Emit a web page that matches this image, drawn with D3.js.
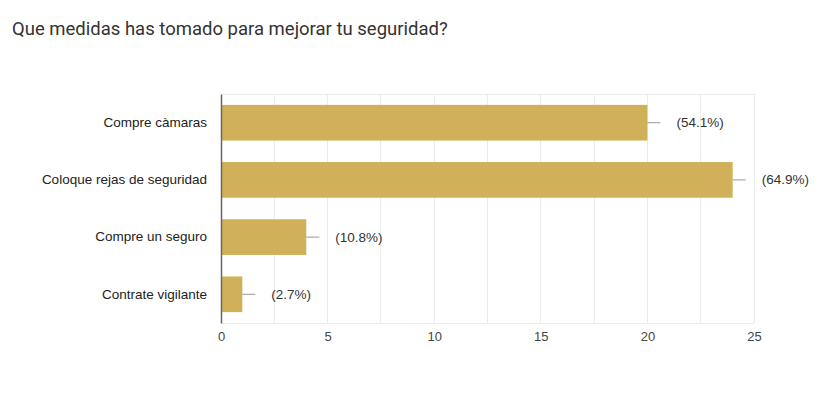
<!DOCTYPE html>
<html><head><meta charset="utf-8">
<script src="https://cdn.jsdelivr.net/npm/d3@7"></script>
<style>body{margin:0;background:#fff;}svg{display:block;}</style>
</head><body>
<svg id="c" width="830" height="403"></svg>
<script>
const title = "Que medidas has tomado para mejorar tu seguridad?";
const categories = ["Compre càmaras", "Coloque rejas de seguridad", "Compre un seguro", "Contrate vigilante"];
const values = [20, 24, 4, 1];
const percentLabels = ["(54.1%)", "(64.9%)", "(10.8%)", "(2.7%)"];
const tickValues = [0, 5, 10, 15, 20, 25];
const gridValues = [2.5, 5, 7.5, 10, 12.5, 15, 17.5, 20, 22.5, 25];

const svg = d3.select("#c");
const pLeft = 221, pRight = 754, pTop = 94, pBottom = 323;
const x = d3.scaleLinear().domain([0, 25]).range([pLeft, pRight]);
const y = d3.scaleBand().domain(categories).range([pTop, pBottom]).paddingInner(0.376).paddingOuter(0.19);

svg.append("text").attr("x", 12).attr("y", 35).text(title)
  .attr("font-family", "Roboto, Arial, sans-serif").attr("font-size", 18.5).attr("fill", "#333");

// grid
svg.append("g").selectAll("line").data(gridValues).join("line")
  .attr("x1", d => x(d)).attr("x2", d => x(d)).attr("y1", pTop).attr("y2", pBottom)
  .attr("stroke", "#ebebeb").attr("stroke-width", 1).attr("shape-rendering", "crispEdges");
svg.append("line").attr("x1", pLeft).attr("x2", pRight).attr("y1", pTop).attr("y2", pTop)
  .attr("stroke", "#ebebeb").attr("shape-rendering", "crispEdges");
svg.append("line").attr("x1", pLeft).attr("x2", pRight).attr("y1", pBottom).attr("y2", pBottom)
  .attr("stroke", "#ebebeb").attr("shape-rendering", "crispEdges");

// bars
svg.append("g").selectAll("rect").data(values).join("rect")
  .attr("x", x(0)).attr("y", (d, i) => y(categories[i]))
  .attr("width", d => x(d) - x(0)).attr("height", y.bandwidth())
  .attr("fill", "#d1b05a");

// whiskers
svg.append("g").selectAll("line").data(values).join("line")
  .attr("x1", d => x(d)).attr("x2", d => x(d) + 13)
  .attr("y1", (d, i) => y(categories[i]) + y.bandwidth() / 2)
  .attr("y2", (d, i) => y(categories[i]) + y.bandwidth() / 2)
  .attr("stroke", "#999").attr("stroke-width", 1);

// percent labels
svg.append("g").selectAll("text").data(values).join("text")
  .attr("x", d => x(d) + 29)
  .attr("y", (d, i) => y(categories[i]) + y.bandwidth() / 2 + 4.5)
  .text((d, i) => percentLabels[i])
  .attr("font-family", "Liberation Sans, Arial, sans-serif").attr("font-size", 13.5).attr("fill", "#333");

// y axis
const yAxis = svg.append("g").attr("transform", `translate(${pLeft},0)`)
  .call(d3.axisLeft(y).tickSize(0).tickPadding(14));
yAxis.select(".domain").attr("stroke", "#666").attr("stroke-width", 1.5);
yAxis.selectAll("text").attr("font-family", "Liberation Sans, Arial, sans-serif").attr("font-size", 13.5).attr("fill", "#222");

// x axis
const xAxis = svg.append("g").attr("transform", `translate(0,${pBottom})`)
  .call(d3.axisBottom(x).tickValues(tickValues).tickSize(0).tickPadding(9).tickFormat(d3.format("d")));
xAxis.select(".domain").remove();
xAxis.selectAll("text").attr("font-family", "Liberation Sans, Arial, sans-serif").attr("font-size", 13).attr("fill", "#444");
</script>
</body></html>
